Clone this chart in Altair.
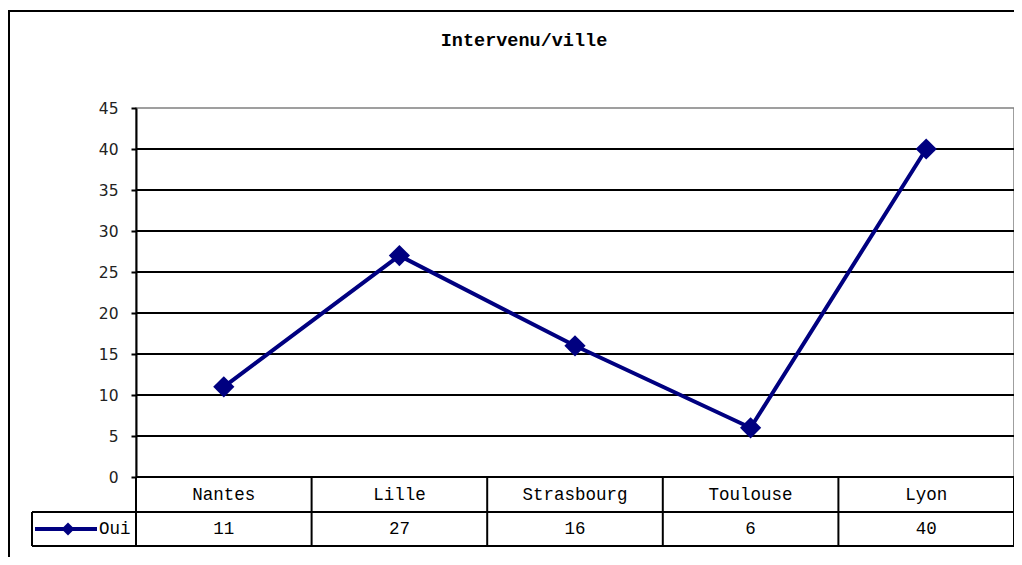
import altair as alt
import pandas as pd

title_text = "Intervenu/ville"
categories = ["Nantes", "Lille", "Strasbourg", "Toulouse", "Lyon"]
values = [11, 27, 16, 6, 40]
series_name = "Oui"
y_ticks = [0, 5, 10, 15, 20, 25, 30, 35, 40, 45]

W, H = 878, 369
FONT = "Liberation Mono"
AXFONT = "DejaVu Sans"
NAVY = "#000080"
TS = 17.5

df = pd.DataFrame({
    "cat": categories,
    "val": values,
    "mid": [i + 0.5 for i in range(len(categories))],
})
bounds = pd.DataFrame({"b": list(range(len(categories) + 1))})
grid_df = pd.DataFrame({"val": y_ticks[:-1]})

xs = alt.Scale(domain=[0, len(categories)], nice=False, zero=False)
ys = alt.Scale(domain=[0, 45], nice=False)
yaxis = alt.Axis(
    values=y_ticks, title=None, grid=False,
    domainColor="black", domainWidth=2, tickColor="black", tickWidth=2,
    tickSize=5, labelFont=AXFONT, labelFontSize=15.5, labelColor="#222222", labelPadding=13,
)

def X(field):
    return alt.X(field, scale=xs, axis=None)

def Y(field):
    return alt.Y(field, scale=ys, axis=yaxis)

base = alt.Chart(df)

grid = alt.Chart(grid_df).mark_rule(color="black", strokeWidth=2).encode(
    y=Y("val:Q"), x=alt.value(0), x2=alt.value(W),
)

line = base.mark_line(color=NAVY, strokeWidth=4).encode(x=X("mid:Q"), y=Y("val:Q"))
points = base.mark_point(shape="diamond", filled=True, size=450, color=NAVY, opacity=1).encode(
    x=X("mid:Q"), y=Y("val:Q"),
)

cat_text = base.mark_text(font=FONT, fontSize=TS, color="black", baseline="middle").encode(
    x=X("mid:Q"), y=alt.value(387), text="cat:N",
)
val_text = base.mark_text(font=FONT, fontSize=TS, color="black", baseline="middle").encode(
    x=X("mid:Q"), y=alt.value(421), text="val:Q",
)
vsep = alt.Chart(bounds).mark_rule(color="black", strokeWidth=2).encode(
    x=X("b:Q"), y=alt.value(H), y2=alt.value(438),
)

leg = pd.DataFrame({"name": [series_name]})
hline1 = alt.Chart(leg).mark_rule(color="black", strokeWidth=2).encode(
    x=alt.value(-104), x2=alt.value(W), y=alt.value(404),
)
hline2 = alt.Chart(leg).mark_rule(color="black", strokeWidth=2).encode(
    x=alt.value(-104), x2=alt.value(W), y=alt.value(438),
)
lsep = alt.Chart(leg).mark_rule(color="black", strokeWidth=2).encode(
    x=alt.value(-104), y=alt.value(404), y2=alt.value(438),
)
leg_line = alt.Chart(leg).mark_rule(color=NAVY, strokeWidth=4).encode(
    x=alt.value(-101), x2=alt.value(-39), y=alt.value(421),
)
leg_pt = alt.Chart(leg).mark_point(shape="diamond", filled=True, size=170, color=NAVY, opacity=1).encode(
    x=alt.value(-68), y=alt.value(421),
)
leg_txt = alt.Chart(leg).mark_text(font=FONT, fontSize=TS, color="black", align="left", baseline="middle").encode(
    x=alt.value(-37), y=alt.value(421), text="name:N",
)

ttl = alt.Chart(pd.DataFrame({"t": [title_text]})).mark_text(
    font=FONT, fontSize=18.5, fontWeight="bold", color="black", align="center", baseline="middle"
).encode(x=alt.value(388), y=alt.value(-68), text="t:N")

frame = alt.Chart(leg).mark_rect(fill="transparent", stroke="black", strokeWidth=2).encode(
    x=alt.value(-127), y=alt.value(-97), x2=alt.value(2000), y2=alt.value(2000),
)

chart = alt.layer(
    frame, ttl, grid, vsep, hline1, hline2, lsep, cat_text, val_text,
    leg_line, leg_pt, leg_txt, line, points,
).properties(
    width=W, height=H,
    background="white",
    autosize=alt.AutoSizeParams(type="none"),
    padding={"left": 128, "top": 100, "right": 0, "bottom": 80},
).configure_view(stroke="#808080", strokeWidth=1.5)

chart.save("out.html", embed_options={"renderer": "svg", "actions": False})
